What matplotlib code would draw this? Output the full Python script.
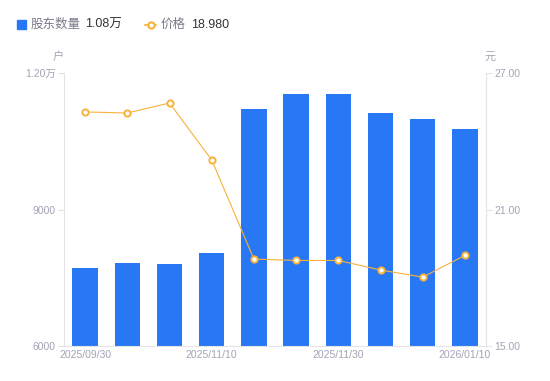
import matplotlib
matplotlib.use("Agg")
import matplotlib.pyplot as plt
from matplotlib.lines import Line2D
from matplotlib.patches import Rectangle

plt.rcParams['font.family'] = ['Liberation Sans', 'Noto Sans CJK SC', 'DejaVu Sans']

dates = ["2025/09/30", "2025/10/20", "2025/10/31", "2025/11/10", "2025/11/20",
         "2025/11/25", "2025/11/30", "2025/12/10", "2025/12/31", "2026/01/10"]
holders = [7714, 7824, 7802, 8044, 11209, 11538, 11538, 11121, 10989, 10769]
price = [25.29, 25.24, 25.68, 23.18, 18.82, 18.76, 18.76, 18.34, 18.03, 18.98]
left_ticks = [6000, 9000, 12000]
left_labels = ["6000", "9000", "1.20万"]
right_ticks = [15, 21, 27]
right_labels = ["15.00", "21.00", "27.00"]
xtick_idx = [0, 3, 6, 9]

BLUE = "#2878F5"
ORANGE = "#F7B23B"
GREY = "#A3A3B5"
AXC = "#E3E3E8"
CJK = ['Noto Sans CJK SC', 'DejaVu Sans']

fig = plt.figure(figsize=(5.5, 3.81), dpi=100)
W, H = 550, 381
ax = fig.add_axes([64 / W, 1 - 346 / H, (486 - 64) / W, (346 - 73) / H])
ax2 = ax.twinx()

x = list(range(len(dates)))
ax.bar(x, holders, width=0.6, color=BLUE, zorder=2)
ax.set_xlim(-0.5, len(dates) - 0.5)
ax.set_ylim(6000, 12000)
ax.set_yticks(left_ticks)
ax.set_yticklabels(left_labels)
ax.set_xticks([x[i] for i in xtick_idx])
ax.set_xticklabels([dates[i] for i in xtick_idx])

ax2.plot(x, price, color=ORANGE, lw=0.8, marker='o', ms=4.5, mfc='white',
         mec=ORANGE, mew=1.4, zorder=3)
ax2.set_ylim(15, 27)
ax2.set_yticks(right_ticks)
ax2.set_yticklabels(right_labels)

for a in (ax, ax2):
    for s in a.spines.values():
        s.set_visible(False)
    a.tick_params(colors=GREY, labelsize=7.5, length=4, width=0.8, color=AXC)
ax.spines['left'].set_visible(True)
ax.spines['left'].set_color(AXC)
ax.spines['bottom'].set_visible(True)
ax.spines['bottom'].set_color(AXC)
ax2.spines['right'].set_visible(True)
ax2.spines['right'].set_color(AXC)
ax.tick_params(axis='x', length=0, pad=3)
ax.tick_params(axis='y', pad=2)
ax2.tick_params(axis='y', pad=2)

# unit labels
fig.text(58 / W, 1 - 57 / H, "户", color=GREY, fontsize=8, ha='center', va='center', family=CJK)
fig.text(490 / W, 1 - 57 / H, "元", color=GREY, fontsize=8, ha='center', va='center', family=CJK)

# legend
fig.patches.append(Rectangle((17 / W, 1 - 29 / H), 9 / W, 9 / H, transform=fig.transFigure,
                             color=BLUE, figure=fig))
fig.text(31 / W, 1 - 24.5 / H, "股东数量", color="#7A7A8A", fontsize=9, va='center', family=CJK)
fig.text(85 / W, 1 - 24.5 / H, "1.08万", color="#333333", fontsize=9, va='center')
fig.lines.append(Line2D([145 / W, 156 / W], [1 - 24.5 / H, 1 - 24.5 / H], transform=fig.transFigure,
                        color=ORANGE, lw=1.2, figure=fig))
fig.lines.append(Line2D([150.5 / W], [1 - 24.5 / H], transform=fig.transFigure, marker='o',
                        ms=4.5, mfc='white', mec=ORANGE, mew=1.5, color=ORANGE, figure=fig))
fig.text(161 / W, 1 - 24.5 / H, "价格", color="#7A7A8A", fontsize=9, va='center', family=CJK)
fig.text(191 / W, 1 - 24.5 / H, "18.980", color="#333333", fontsize=9, va='center')

fig.savefig("out.png", dpi=100)
